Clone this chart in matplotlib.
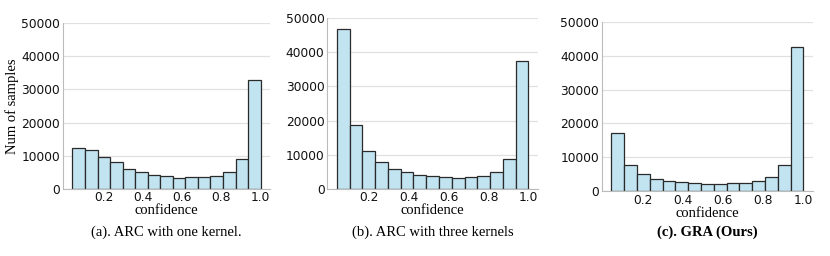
import numpy as np
import matplotlib
matplotlib.use("Agg")
import matplotlib.pyplot as plt

bin_lo = 0.04
bin_hi = 1.0
n_bins = 15

counts_a = [12400, 11600, 9600, 8000, 6050, 4900, 4200, 3700, 3300, 3400, 3500, 3800, 5100, 8900, 33000]
counts_b = [46800, 18600, 11050, 7700, 5700, 4800, 4100, 3600, 3300, 3250, 3400, 3700, 4900, 8600, 37400]
counts_c = [17300, 7750, 5100, 3550, 3050, 2650, 2350, 2250, 2250, 2350, 2550, 3150, 4300, 7750, 42500]

captions = ["(a). ARC with one kernel.", "(b). ARC with three kernels", "(c). GRA (Ours)"]
xticks = [0.2, 0.4, 0.6, 0.8, 1.0]
yticks = [0, 10000, 20000, 30000, 40000, 50000]

edges = np.linspace(bin_lo, bin_hi, n_bins + 1)
centers = (edges[:-1] + edges[1:]) / 2

fig = plt.figure(figsize=(8.3, 2.56), dpi=100)
W, H = 830, 256
# axes boxes in pixels: left, top, right, bottom
boxes = [(63, 23.3, 270, 188.7), (327.3, 18.3, 538, 188.7), (601.7, 21.7, 813, 191.3)]
serif = ["Liberation Serif", "DejaVu Serif"]
for i, (counts, cap, box) in enumerate(zip([counts_a, counts_b, counts_c], captions, boxes)):
    l, t, r, b = box
    ax = fig.add_axes([l / W, 1 - b / H, (r - l) / W, (b - t) / H])
    ax.bar(centers, counts, width=edges[1] - edges[0], color="#c2e4f1",
           edgecolor="#2a2a2a", linewidth=0.9, zorder=2)
    ax.set_ylim(0, 50000)
    ax.set_xlim(bin_lo - 0.05 * (bin_hi - bin_lo), bin_hi + 0.05 * (bin_hi - bin_lo))
    ax.set_xticks(xticks)
    ax.set_xticklabels([f"{v:.1f}" for v in xticks])
    ax.set_yticks(yticks)
    ax.yaxis.grid(True, color="#e0e0e0", linewidth=0.9, zorder=0)
    ax.set_axisbelow(True)
    for s in ["top", "right"]:
        ax.spines[s].set_visible(False)
    for s in ["left", "bottom"]:
        ax.spines[s].set_color("#bbbbbb")
        ax.spines[s].set_linewidth(0.8)
    ax.tick_params(axis="both", length=0, labelsize=8.8, pad=2, colors="#111111")
    ax.set_xlabel("confidence", fontfamily=serif, fontsize=10.5, labelpad=0)
    if i == 0:
        ax.set_ylabel("Num of samples", fontfamily=serif, fontsize=10.5, labelpad=2)
    cx = (l + r) / 2 / W
    fig.text(cx, 1 - 232 / H, cap, ha="center", va="center", fontfamily=serif,
             fontsize=10.5, fontweight="bold" if i == 2 else "normal")

fig.savefig("out.png", dpi=100)
